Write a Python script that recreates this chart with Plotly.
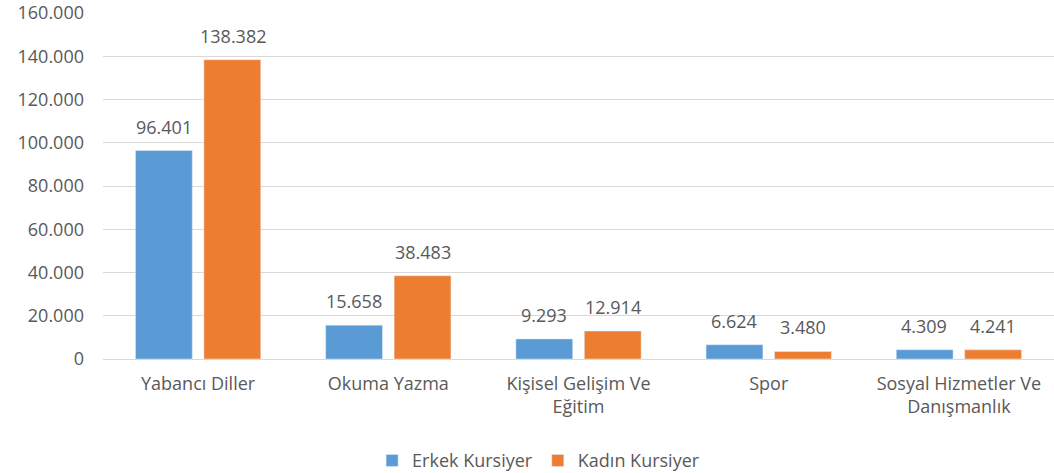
import plotly.graph_objects as go

categories = ["Yabancı Diller", "Okuma Yazma", "Kişisel Gelişim Ve<br>Eğitim", "Spor", "Sosyal Hizmetler Ve<br>Danışmanlık"]
erkek = [96401, 15658, 9293, 6624, 4309]
kadin = [138382, 38483, 12914, 3480, 4241]
tick_vals = [0, 20000, 40000, 60000, 80000, 100000, 120000, 140000, 160000]

FONT = "Open Sans"
GRAY = "#595959"
FS = 18

fig = go.Figure()
fig.add_trace(go.Bar(name="Erkek Kursiyer", x=categories, y=erkek, marker_color="#5B9BD5"))
fig.add_trace(go.Bar(name="Kadın Kursiyer", x=categories, y=kadin, marker_color="#ED7D31"))

def fmt(v):
    return f"{v:,}".replace(",", ".")

annotations = []
for vals, shift in ((erkek, -34.5), (kadin, 34.5)):
    for c, v in zip(categories, vals):
        annotations.append(dict(x=c, y=v, xref="x", yref="y", text=fmt(v), showarrow=False,
                                xshift=shift, yshift=10, yanchor="bottom",
                                font=dict(size=FS, color=GRAY, family=FONT)))

fig.update_layout(
    width=1054, height=473,
    margin=dict(l=103, r=0, t=13, b=114),
    paper_bgcolor="white", plot_bgcolor="white",
    separators=",.",
    barmode="group", bargap=0.28, bargroupgap=0.17,
    font=dict(family=FONT, size=FS, color=GRAY),
    showlegend=True,
    annotations=annotations,
    legend=dict(orientation="h", x=0.511, xanchor="center", xref="container",
                y=0.026, yanchor="middle", yref="container",
                font=dict(size=FS, color=GRAY, family=FONT), traceorder="normal"),
    yaxis=dict(range=[0, 160000], tickvals=tick_vals, tickformat=",d",
               showgrid=True, gridcolor="#D9D9D9", gridwidth=1, zeroline=True,
               zerolinecolor="#D9D9D9", zerolinewidth=1, showline=False,
               ticks="", ticklabelstandoff=18, tickfont=dict(size=FS, color=GRAY, family=FONT)),
    xaxis=dict(showgrid=False, showline=False, ticks="", ticklabelstandoff=12,
               tickfont=dict(size=FS, color=GRAY, family=FONT)),
)

fig.write_html("out.html")
